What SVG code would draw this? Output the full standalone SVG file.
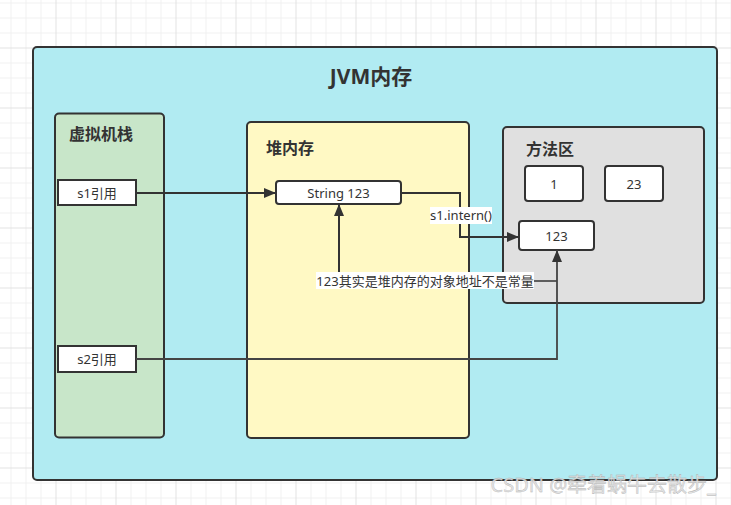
<svg xmlns="http://www.w3.org/2000/svg" width="731" height="505" viewBox="0 0 731 505">
<style>
.box{stroke:#333;stroke-width:2}
.lbl{font-family:"Noto Sans","Noto Sans CJK SC",sans-serif;font-size:13px;fill:#333;text-anchor:middle;dominant-baseline:central}
.ttl{font-family:"Noto Sans","Noto Sans CJK SC",sans-serif;font-weight:bold;font-size:16px;fill:#333;dominant-baseline:central}
.edge{fill:none;stroke:#333;stroke-width:2}
</style>
<defs>
<pattern id="grid" patternUnits="userSpaceOnUse" x="10.5" y="2.5" width="60" height="60">
<path d="M0.5 0V60M15.5 0V60M30.5 0V60M0 0.5H60M0 15.5H60M0 30.5H60" stroke="#f0f0f0" stroke-width="1" fill="none"/>
<path d="M45.5 0V60M0 45.5H60" stroke="#e3e3e3" stroke-width="1" fill="none"/>
</pattern>
<marker id="arr" viewBox="0 0 12 10" refX="12" refY="5" markerWidth="12" markerHeight="10" markerUnits="userSpaceOnUse" orient="auto">
<path d="M0 0L12 5L0 10Z" fill="#333"/>
</marker>
</defs>
<rect width="731" height="505" fill="#fff"/>
<rect width="731" height="505" fill="url(#grid)"/>

<g id="jvm">
<rect class="box" x="33" y="47" width="684" height="433" rx="4" fill="#b1ebf2"/>
<text class="ttl" x="371" y="75.5" text-anchor="middle" style="font-size:21px">JVM内存</text>
</g>

<g id="stack">
<rect class="box" x="55" y="113.5" width="109" height="324" rx="4" fill="#c8e6c9"/>
<text class="ttl" x="69" y="134">虚拟机栈</text>
</g>

<g id="heap">
<rect class="box" x="247" y="122" width="222" height="316" rx="4" fill="#fff9c4"/>
<text class="ttl" x="266" y="147.5">堆内存</text>
</g>

<g id="method">
<rect class="box" x="503" y="127" width="201" height="176" rx="4" fill="#e0e0e0"/>
<text class="ttl" x="526" y="148.5">方法区</text>
</g>

<g id="s1">
<rect class="box" x="58" y="180" width="78" height="25" fill="#fff"/>
<text class="lbl" x="97" y="192.5">s1引用</text>
</g>

<g id="s2">
<rect class="box" x="58" y="346" width="78" height="26" fill="#fff"/>
<text class="lbl" x="97" y="359">s2引用</text>
</g>

<g id="str123">
<rect class="box" x="276" y="181" width="125" height="23" rx="3" fill="#fff"/>
<text class="lbl" x="338.5" y="192.5">String 123</text>
</g>

<g id="c1">
<rect class="box" x="525" y="166" width="58" height="35" rx="3" fill="#fff"/>
<text class="lbl" x="554" y="183.5">1</text>
</g>

<g id="c23">
<rect class="box" x="605" y="166" width="58" height="35" rx="3" fill="#fff"/>
<text class="lbl" x="634" y="183.5">23</text>
</g>

<g id="c123">
<rect class="box" x="519" y="221" width="75" height="29" rx="3" fill="#fff"/>
<text class="lbl" x="556.5" y="235.5">123</text>
</g>

<g id="connectors">
<path class="edge" d="M136 193H276" marker-end="url(#arr)"/>
<path class="edge" d="M401 193H460V237H519" marker-end="url(#arr)"/>
<path class="edge" d="M339 273V204" marker-end="url(#arr)"/>
<path class="edge" d="M534 281H557" style="stroke-width:1.5"/>
<path class="edge" d="M136 359H557V250" style="stroke:#444;stroke-width:1.8" marker-end="url(#arr)"/>
<rect x="430" y="207" width="62" height="17" fill="#fff"/>
<text class="lbl" x="461" y="215">s1.intern()</text>
<rect x="316" y="272" width="218" height="17" fill="#fff"/>
<text class="lbl" x="425" y="280.5">123其实是堆内存的对象地址不是常量</text>
</g>

<text x="716" y="492" text-anchor="end" style="font-family:'Noto Sans','Noto Sans CJK SC',sans-serif;font-size:20px;fill:#e2e2e2;stroke:#a8a8a8;stroke-width:0.35;opacity:0.9">CSDN @牵着蜗牛去散步_</text>
</svg>
